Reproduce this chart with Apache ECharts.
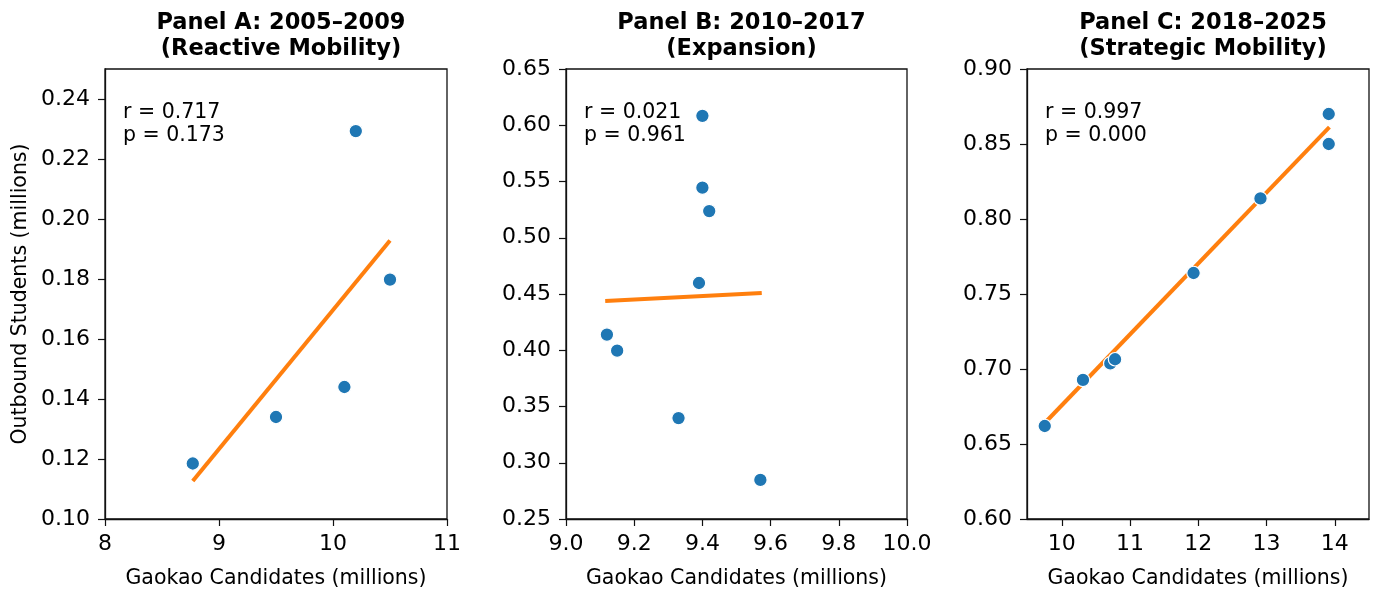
<!DOCTYPE html>
<html><head><meta charset="utf-8">
<script src="https://cdn.jsdelivr.net/npm/echarts@6/dist/echarts.min.js"></script>
<style>html,body{margin:0;padding:0;background:#fff}#c{width:1373px;height:594px}</style>
</head><body><div id="c"></div>
<script>
// ---- data ----
const panelTitles = ['Panel A: 2005\u20132009\n(Reactive Mobility)', 'Panel B: 2010\u20132017\n(Expansion)', 'Panel C: 2018\u20132025\n(Strategic Mobility)'];
const xLabel = 'Gaokao Candidates (millions)';
const yLabel = 'Outbound Students (millions)';

const xA = [8.77, 9.50, 10.10, 10.50, 10.20];
const yA = [0.1185, 0.134, 0.144, 0.1798, 0.2293];
const fitXA = [8.77, 10.50];
const fitYA = [0.1127, 0.1928];
const statsA = ['r = 0.717', 'p = 0.173'];

const xB = [9.57, 9.33, 9.15, 9.12, 9.39, 9.42, 9.40, 9.40];
const yB = [0.2847, 0.3397, 0.3996, 0.4139, 0.4598, 0.5237, 0.5445, 0.6084];
const fitXB = [9.115, 9.574];
const fitYB = [0.4438, 0.4509];
const statsB = ['r = 0.021', 'p = 0.961'];

const xC = [9.75, 10.31, 10.71, 10.78, 11.93, 12.91, 13.91, 13.91];
const yC = [0.662, 0.6927, 0.7037, 0.7065, 0.764, 0.8137, 0.850, 0.870];
const fitXC = [9.75, 13.92];
const fitYC = [0.6640, 0.8612];
const statsC = ['r = 0.997', 'p = 0.000'];

const xTicksA = [8, 9, 10, 11];
const yTicksA = [0.10, 0.12, 0.14, 0.16, 0.18, 0.20, 0.22, 0.24];
const xTicksB = [9.0, 9.2, 9.4, 9.6, 9.8, 10.0];
const yTicksB = [0.25, 0.30, 0.35, 0.40, 0.45, 0.50, 0.55, 0.60, 0.65];
const xTicksC = [10, 11, 12, 13, 14];
const yTicksC = [0.60, 0.65, 0.70, 0.75, 0.80, 0.85, 0.90];

// ---- layout/style ----
const F = 'DejaVu Sans';
const grids = [
  {left: 105, top: 69, width: 342, height: 451},
  {left: 566, top: 69, width: 341, height: 451},
  {left: 1027, top: 69, width: 342, height: 451}
];
const panels = [
  {x: xA, y: yA, fx: fitXA, fy: fitYA, s: statsA, xt: xTicksA, yt: yTicksA, xr: [8, 11], yr: [0.10, 0.25], xd: 0, yd: 2},
  {x: xB, y: yB, fx: fitXB, fy: fitYB, s: statsB, xt: xTicksB, yt: yTicksB, xr: [9, 10], yr: [0.25, 0.65], xd: 1, yd: 2},
  {x: xC, y: yC, fx: fitXC, fy: fitYC, s: statsC, xt: xTicksC, yt: yTicksC, xr: [9.49, 14.5], yr: [0.60, 0.90], xd: 0, yd: 2}
];

const zip = (a, b) => a.map((v, i) => [v, b[i]]);
const txt = {color: '#000', fontFamily: F, fontSize: 20.5};
const tickTxt = {color: '#000', fontFamily: F, fontSize: 22};

const option = {
  animation: false,
  backgroundColor: '#fff',
  title: panels.map((p, i) => ({
    text: panelTitles[i],
    left: grids[i].left + grids[i].width / 2,
    top: 5,
    textAlign: 'center',
    textStyle: {color: '#000', fontFamily: F, fontSize: 22.5, fontWeight: 'bold', lineHeight: 26}
  })),
  grid: grids.map(g => Object.assign({show: true, borderColor: '#111', borderWidth: 1.3, backgroundColor: 'transparent', containLabel: false}, g)),
  xAxis: panels.map((p, i) => ({
    type: 'value', gridIndex: i, min: p.xr[0], max: p.xr[1],
    axisLine: {show: true, onZero: false, lineStyle: {color: '#111', width: 1.3}},
    axisTick: {show: true, length: 7, customValues: p.xt, lineStyle: {color: '#111', width: 1.2}},
    axisLabel: Object.assign({customValues: p.xt, formatter: v => Number(v).toFixed(p.xd), margin: 14}, tickTxt),
    splitLine: {show: false},
    name: xLabel, nameLocation: 'middle', nameGap: 49,
    nameTextStyle: Object.assign({}, txt)
  })),
  yAxis: panels.map((p, i) => ({
    type: 'value', gridIndex: i, min: p.yr[0], max: p.yr[1],
    axisLine: {show: true, onZero: false, lineStyle: {color: '#111', width: 1.3}},
    axisTick: {show: true, length: 7, customValues: p.yt, lineStyle: {color: '#111', width: 1.2}},
    axisLabel: Object.assign({customValues: p.yt, formatter: v => Number(v).toFixed(p.yd), margin: 15}, tickTxt),
    splitLine: {show: false},
    name: i === 0 ? yLabel : '', nameLocation: 'middle', nameGap: 74,
    nameTextStyle: Object.assign({}, txt)
  })),
  graphic: panels.map((p, i) => ({
    type: 'text', left: grids[i].left + 18, top: 101, z: 100,
    style: {text: p.s.join('\n'), fill: '#000', font: '20.5px "DejaVu Sans"', lineHeight: 23.3}
  })),
  series: panels.flatMap((p, i) => [
    {type: 'line', xAxisIndex: i, yAxisIndex: i, data: zip(p.fx, p.fy), symbol: 'none', z: 2,
     lineStyle: {color: '#ff7f0e', width: 4}},
    {type: 'scatter', xAxisIndex: i, yAxisIndex: i, data: zip(p.x, p.y), symbolSize: 13.5, z: 3,
     itemStyle: {color: '#1f77b4', borderColor: '#fff', borderWidth: 1.2, opacity: 1}}
  ])
};
echarts.init(document.getElementById('c')).setOption(option);
</script></body></html>
